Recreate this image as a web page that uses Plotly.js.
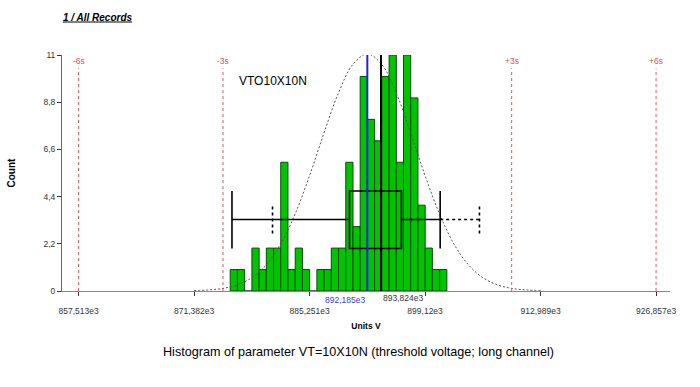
<!DOCTYPE html>
<html>
<head>
<meta charset="utf-8">
<script src="https://cdn.plot.ly/plotly-3.0.1.min.js"></script>
<style>html,body{margin:0;padding:0;background:#fff;}#chart{width:700px;height:387px;}</style>
</head>
<body>
<div id="chart"></div>
<script>
// ---- data ----
const binCenters = [876.15, 877.02, 877.89, 878.76, 879.62, 880.49, 881.36, 882.22, 883.09, 883.96,
                    884.82, 885.69, 886.56, 887.43, 888.29, 889.16, 890.03, 890.89, 891.76, 892.63,
                    893.49, 894.36, 895.23, 896.09, 896.96, 897.83, 898.70, 899.56, 900.43, 901.30];
const binWidth = 0.867;
const counts = [1, 1, 0, 2, 1, 2, 2, 6, 1, 2,
                1, 0, 1, 1, 2, 2, 6, 3, 10, 8,
                7, 10, 11, 6, 11, 9, 4, 2, 1, 1];

const curveX = [871.381, 873.115, 874.849, 876.582, 878.316, 880.050, 881.783, 883.517, 885.251, 886.984,
                888.718, 890.451, 892.185, 893.919, 895.652, 897.386, 899.120, 900.853, 902.587, 904.321,
                906.054, 907.788, 909.521, 911.255, 912.989];
const curveY = [0.02, 0.05, 0.12, 0.29, 0.62, 1.22, 2.19, 3.59, 5.38, 7.37,
                9.23, 10.56, 11.05, 10.56, 9.23, 7.37, 5.38, 3.59, 2.19, 1.22,
                0.62, 0.29, 0.12, 0.05, 0.02];

const meanVal = 892.185;
const medianVal = 893.824;
const sigmaPos = [857.513, 874.851, 909.519, 926.857];
const sigmaLabels = ['-6s', '-3s', '+3s', '+6s'];

const boxQ1 = 890.04, boxQ3 = 896.28;
const whiskerLo = 875.93, whiskerHi = 900.93;
const limitLo = 880.80, limitHi = 905.65;

const xTickVals = [857.513, 871.382, 885.251, 899.12, 912.989, 926.857];
const xTickText = ['857,513e3', '871,382e3', '885,251e3', '899,12e3', '912,989e3', '926,857e3'];
const yTickVals = [0, 2.2, 4.4, 6.6, 8.8, 11];
const yTickText = ['0', '2,2', '4,4', '6,6', '8,8', '11'];

const paramName = 'VTO10X10N';
const caption = 'Histogram of parameter VT=10X10N (threshold voltage; long channel)';

// ---- styling / layout ----
const F = 'Liberation Sans, Arial, sans-serif';
const boxYc = 3.33, boxY0 = 1.98, boxY1 = 4.66, limY0 = 2.68, limY1 = 3.96;

const traces = [
  {
    type: 'bar', x: binCenters, y: counts, width: binWidth,
    marker: {color: '#00c400', line: {color: '#0b4a0b', width: 1}},
    hoverinfo: 'x+y', showlegend: false
  },
  {
    type: 'scatter', mode: 'lines', x: curveX, y: curveY,
    line: {color: '#555', width: 1, dash: '2px,2px', shape: 'spline'},
    showlegend: false, cliponaxis: false
  }
];

const shapes = [];
sigmaPos.forEach(v => shapes.push({type: 'line', xref: 'x', yref: 'y', x0: v, x1: v, y0: 0, y1: 10.38,
  line: {color: '#e05a5a', width: 1, dash: 'dot'}}));
const blk = {color: '#000', width: 1.6};
shapes.push({type: 'line', xref: 'x', yref: 'y', x0: whiskerLo, x1: boxQ1, y0: boxYc, y1: boxYc, line: blk});
shapes.push({type: 'line', xref: 'x', yref: 'y', x0: boxQ3, x1: whiskerHi, y0: boxYc, y1: boxYc, line: blk});
shapes.push({type: 'line', xref: 'x', yref: 'y', x0: whiskerLo, x1: whiskerLo, y0: boxY0, y1: boxY1, line: blk});
shapes.push({type: 'line', xref: 'x', yref: 'y', x0: whiskerHi, x1: whiskerHi, y0: boxY0, y1: boxY1, line: blk});
shapes.push({type: 'rect', xref: 'x', yref: 'y', x0: boxQ1, x1: boxQ3, y0: boxY0, y1: boxY1, line: blk});
shapes.push({type: 'line', xref: 'x', yref: 'y', x0: whiskerHi, x1: limitHi, y0: boxYc, y1: boxYc,
  line: {color: '#000', width: 1.6, dash: 'dot'}});
shapes.push({type: 'line', xref: 'x', yref: 'y', x0: limitLo, x1: limitLo, y0: limY0, y1: limY1,
  line: {color: '#000', width: 1.6, dash: 'dot'}});
shapes.push({type: 'line', xref: 'x', yref: 'y', x0: limitHi, x1: limitHi, y0: limY0, y1: limY1,
  line: {color: '#000', width: 1.6, dash: 'dot'}});
shapes.push({type: 'line', xref: 'x', yref: 'y', x0: meanVal, x1: meanVal, y0: 0, y1: 11.36,
  line: {color: '#2222dd', width: 2}});
shapes.push({type: 'line', xref: 'x', yref: 'y', x0: medianVal, x1: medianVal, y0: 0, y1: 11.36,
  line: {color: '#000', width: 2}});

const annotations = [];
sigmaPos.forEach((v, i) => annotations.push({xref: 'x', yref: 'y', x: v, y: 10.71, text: sigmaLabels[i],
  showarrow: false, font: {family: F, size: 8.5, color: '#e05050'}, xanchor: 'center', yanchor: 'middle'}));
annotations.push({xref: 'x', yref: 'y', x: meanVal, y: 11.55, text: 'Mean', showarrow: false,
  xanchor: 'right', yanchor: 'middle', font: {family: F, size: 8.5, color: '#3b3bd0'}});
annotations.push({xref: 'x', yref: 'y', x: medianVal, y: 11.55, text: 'Median', showarrow: false,
  xanchor: 'left', yanchor: 'middle', font: {family: F, size: 8.5, color: '#111'}});
annotations.push({xref: 'x', yref: 'paper', x: meanVal, y: -0.038, text: '892,185e3', showarrow: false,
  xanchor: 'right', yanchor: 'middle', font: {family: F, size: 8.5, color: '#3b3bd0'}});
annotations.push({xref: 'x', yref: 'paper', x: medianVal, y: -0.03, text: '893,824e3', showarrow: false,
  xanchor: 'left', yanchor: 'middle', font: {family: F, size: 8.5, color: '#333'}});
annotations.push({xref: 'x', yref: 'y', x: 876.5, y: 9.8, text: paramName, showarrow: false,
  xanchor: 'left', yanchor: 'middle', font: {family: F, size: 12, color: '#000'}});
annotations.push({xref: 'paper', yref: 'paper', x: 0.488, y: -0.2585, text: caption, showarrow: false,
  xanchor: 'center', yanchor: 'middle', font: {family: F, size: 12.6, color: '#000'}});

const layout = {
  width: 700, height: 387,
  margin: {l: 62, r: 30, t: 55, b: 96},
  paper_bgcolor: '#fff', plot_bgcolor: '#fff',
  showlegend: false,
  bargap: 0,
  title: {text: '1 / All Records', x: 63 / 700, xanchor: 'left', y: 1 - 17 / 387, yanchor: 'middle',
    font: {family: F, size: 10, weight: 'bold', style: 'italic', lineposition: 'under', color: '#000'}},
  xaxis: {
    range: [855.52, 928.53], showgrid: false, zeroline: false,
    showline: true, linecolor: '#888', linewidth: 1,
    ticks: 'outside', ticklen: 4, tickcolor: '#333',
    tickvals: xTickVals, ticktext: xTickText, ticklabelstandoff: 8,
    tickfont: {family: F, size: 8.5, color: '#333'},
    title: {text: 'Units V', standoff: 7, font: {family: F, size: 8.5, weight: 'bold', color: '#000'}}
  },
  yaxis: {
    range: [0, 11], showgrid: false, zeroline: false,
    showline: true, linecolor: '#666', linewidth: 1,
    ticks: 'outside', ticklen: 4, tickcolor: '#333',
    tickvals: yTickVals, ticktext: yTickText,
    tickfont: {family: F, size: 8.5, color: '#333'},
    title: {text: 'Count', standoff: 25, font: {family: F, size: 10, weight: 'bold', color: '#000'}}
  },
  shapes: shapes,
  annotations: annotations
};

Plotly.newPlot('chart', traces, layout, {displayModeBar: false, staticPlot: true});
</script>
</body>
</html>
